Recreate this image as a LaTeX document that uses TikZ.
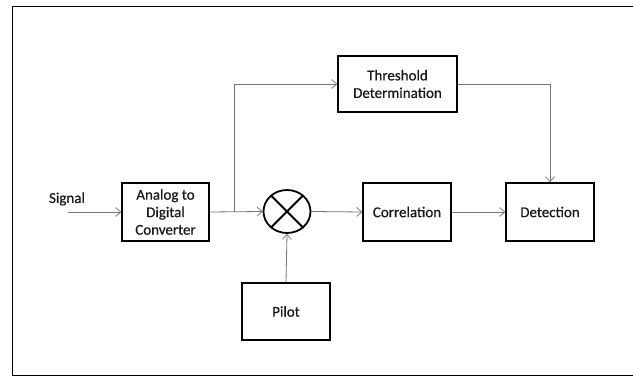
\documentclass[tikz,border=0pt]{standalone}
\usepackage{fontspec}
\setmainfont{Carlito}[BoldFont=Carlito,BoldFeatures={FakeBold=0.6}]
\usetikzlibrary{arrows.meta,shapes.geometric}
\begin{document}
\begin{tikzpicture}[x=1pt,y=-1pt,
  txt/.style={font=\fontsize{15}{17.5}\selectfont\bfseries,text=black!90},
  blk/.style={txt,draw=black,line width=1.6pt,rectangle,inner sep=0pt,align=center},
  conn/.style={draw=black!55,line width=0.8pt,-{Straight Barb[length=5pt,width=9pt,line width=0.7pt]}}]
\useasboundingbox (0,0) rectangle (633,377);
\draw[line width=1.5pt,black] (12.5,6.5) -- (12.5,375.5) -- (640,375.5);
\draw[line width=1.5pt,black] (12.5,6.5) -- (640,6.5);
\node[blk,minimum width=87pt,minimum height=58pt] (adc) at (165.5,212) {Analog to\\Digital\\Converter};
\node[blk,minimum width=119pt,minimum height=56pt] (thr) at (397.5,84) {Threshold\\Determination};
\node[blk,minimum width=88pt,minimum height=58pt] (corr) at (407,212) {Correlation};
\node[blk,minimum width=88pt,minimum height=58pt] (det) at (550,212) {Detection};
\node[blk,minimum width=88pt,minimum height=57pt] (pil) at (286,311.5) {Pilot};
\node[draw=black,line width=1.8pt,ellipse,inner sep=0pt,minimum width=47pt,minimum height=43pt] (mul) at (287,211.5) {};
\draw[line width=1.8pt] (mul.45) -- (mul.225) (mul.135) -- (mul.315);
\node[txt] (sig) at (67,199) {Signal};
\coordinate (s) at (68,212);
\coordinate (b) at (234,212);
\draw[conn] (s) -- (adc.west);
\draw[conn] (adc.east) -- (mul.west);
\draw[conn] (b) |- (thr.west);
\draw[conn] (thr.east) -| (det.north);
\draw[conn] (mul.east) -- (corr.west);
\draw[conn] (corr.east) -- (det.west);
\draw[conn] (pil.north) -- (mul.south);
\end{tikzpicture}
\end{document}
